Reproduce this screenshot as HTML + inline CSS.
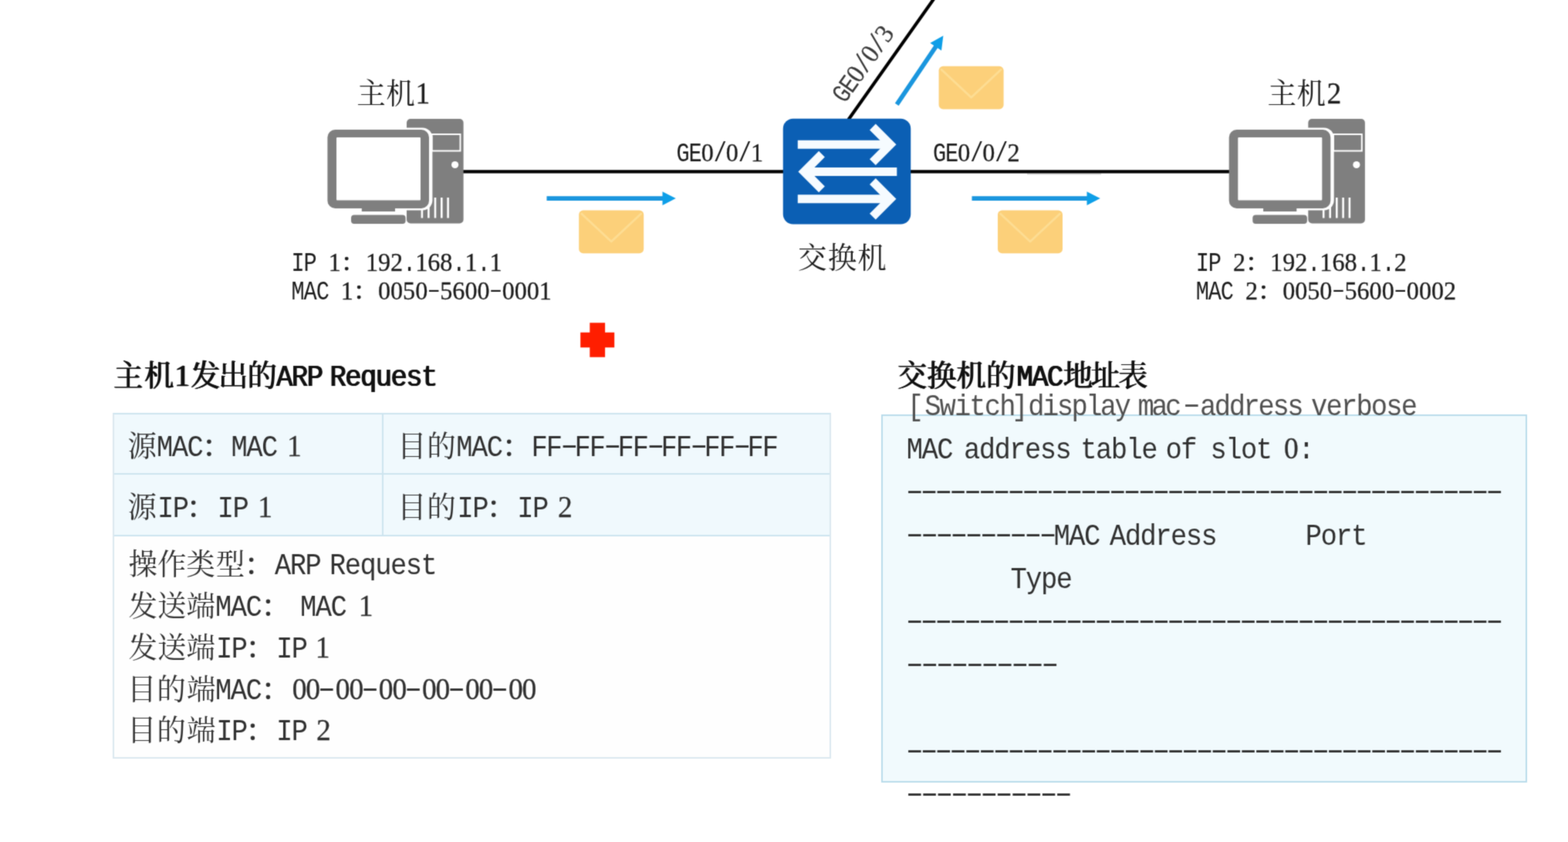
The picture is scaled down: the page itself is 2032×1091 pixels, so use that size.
<!DOCTYPE html>
<html lang="zh-CN"><head><meta charset="utf-8"><title>ARP Request - 交换机的MAC地址表</title>
<style>
*{box-sizing:border-box}
html,body{margin:0;padding:0}
body{width:2032px;height:1091px;position:relative;overflow:hidden;background:#fff;
 font-family:"Liberation Serif","Noto Serif CJK SC",serif}
#page{position:absolute;left:0;top:0;width:2032px;height:1091px;overflow:hidden;background:#fff;filter:url(#soft)}
#dia{position:absolute;left:0;top:0}
.t{position:absolute;white-space:pre;line-height:1;font-size:37.5px;color:#303030;margin:0;
 font-family:"Liberation Serif","Noto Serif CJK SC",serif}
.t .m{font-family:"Liberation Mono","Noto Serif CJK SC",monospace;font-size:35.5px;letter-spacing:-1.55px;word-spacing:-5.75px;line-height:0;
 display:inline-block;transform:scaleY(1.1);transform-origin:0 .2661em}
.t .n{font-family:"Liberation Serif","Noto Serif CJK SC",serif;display:inline-block;line-height:0;-webkit-text-stroke:.3px currentColor;
 transform:scaleY(1.04);transform-origin:0 .3375em}
.t .x{display:inline-block}
.t .q{-webkit-text-stroke:.9px currentColor}
.t .d{font-family:"Liberation Mono","Noto Serif CJK SC",monospace;font-size:60.4px;--dls:-17.49px;letter-spacing:var(--dls);line-height:0;
 display:inline-block;margin:0 8.8px 0 -8.8px;transform:translateY(-3.4px) scaleY(.6);transform-origin:0 .2661em}
.t.s{font-size:32.14px;color:#1c1c1c}
.t.s .m{font-size:28.6px;letter-spacing:-1.09px;word-spacing:0;transform:scaleY(1.21)}
.t.s .n{transform:scaleY(1.07)}
.t.s .d{font-size:45.8px;--dls:-11.41px;margin:0 5.7px 0 -5.7px;transform:translateY(-4.2px) scaleY(.6)}
.t.h{font-weight:400;color:#111;font-size:38.3px;text-shadow:.7px 0 0 #111,1.4px 0 0 #111}
.t.h .m{word-spacing:-10.5px}
.t.h .n{font-size:39.5px}
.t.g{color:#505050}
.t.l{color:#1e1e1e}
.t.r{color:#3a3a3a}
.box{position:absolute}
section{margin:0;padding:0}
#tbl{left:146px;top:535px;width:931px;height:448px;border:2px solid #dbe8ef;border-top-color:#cde4ef;background:#fefefe}
#tbl .c{position:absolute;background:#f0f9fd}
#tbl .c1{left:0;top:0;width:349px;height:78px;border-right:2px solid #cde4ef;border-bottom:2px solid #cde4ef}
#tbl .c2{left:349px;top:0;width:578px;height:78px;border-bottom:2px solid #cde4ef}
#tbl .c3{left:0;top:78px;width:349px;height:80px;border-right:2px solid #cde4ef;border-bottom:2px solid #cde4ef}
#tbl .c4{left:349px;top:78px;width:578px;height:80px;border-bottom:2px solid #cde4ef}
#mac{left:1142px;top:537px;width:837px;height:477px;border:2px solid #b9dceb;background:#f1fafd}
</style></head>
<body>
<svg width="0" height="0" style="position:absolute" aria-hidden="true"><defs><filter id="soft" x="0" y="0" width="100%" height="100%" color-interpolation-filters="sRGB"><feConvolveMatrix order="3" kernelMatrix="0.0289 0.1122 0.0289 0.1122 0.4356 0.1122 0.0289 0.1122 0.0289" edgeMode="duplicate" preserveAlpha="true"/></filter></defs></svg>
<div id="page">
<section id="topo">
<svg id="dia" width="2032" height="480" viewBox="0 0 2032 480">
<path d="M1331 225.4H1427" stroke="#d4d4d4" stroke-width="1.6" fill="none"/>
<g stroke="#000" stroke-width="4.2" fill="none">
 <path d="M598 222.3H1016"/>
 <path d="M1179 222.3H1594"/>
 <path d="M1099.5 155L1212 -4"/>
</g>
<g transform="translate(0,0)">
 <rect x="527" y="154" width="73.6" height="135.4" rx="5" fill="#7f7f7f"/>
 <rect x="559.6" y="174" width="36.9" height="21.5" fill="none" stroke="#fff" stroke-width="2"/>
 <circle cx="589.6" cy="213.5" r="4.6" fill="#fff"/>
 <path d="M546.9 256V282.5M555.4 256V282.5M564 256V282.5M572.3 256V282.5M580.6 256V282.5" stroke="#fff" stroke-width="2.6" fill="none"/>
 <rect x="430" y="165.5" width="130.4" height="107" rx="13" fill="#fff"/>
 <rect x="455" y="278.5" width="70.6" height="11.5" rx="4" fill="#7f7f7f"/>
 <rect x="468.8" y="268" width="43.2" height="6" fill="#7f7f7f"/>
 <rect x="424.4" y="168" width="131.6" height="102" rx="10" fill="#7f7f7f"/>
 <rect x="436" y="178" width="109" height="81.4" rx="1" fill="#fff"/>
</g>
<g transform="translate(1168.3,0)">
 <rect x="527" y="154" width="73.6" height="135.4" rx="5" fill="#7f7f7f"/>
 <rect x="559.6" y="174" width="36.9" height="21.5" fill="none" stroke="#fff" stroke-width="2"/>
 <circle cx="589.6" cy="213.5" r="4.6" fill="#fff"/>
 <path d="M546.9 256V282.5M555.4 256V282.5M564 256V282.5M572.3 256V282.5M580.6 256V282.5" stroke="#fff" stroke-width="2.6" fill="none"/>
 <rect x="430" y="165.5" width="130.4" height="107" rx="13" fill="#fff"/>
 <rect x="455" y="278.5" width="70.6" height="11.5" rx="4" fill="#7f7f7f"/>
 <rect x="468.8" y="268" width="43.2" height="6" fill="#7f7f7f"/>
 <rect x="424.4" y="168" width="131.6" height="102" rx="10" fill="#7f7f7f"/>
 <rect x="436" y="178" width="109" height="81.4" rx="1" fill="#fff"/>
</g>
<rect x="1014.75" y="153.75" width="165.5" height="136.85" rx="13" fill="#0b5fb4"/>
<g stroke="#f6fbff" stroke-width="11" fill="none" stroke-linejoin="miter">
 <path d="M1033.8 187.3H1152"/><path d="M1130.9 164.5L1153.7 187.3L1130.9 210.1"/>
 <path d="M1162.3 222.5H1044"/><path d="M1065.0 199.7L1042.2 222.5L1065.0 245.3"/>
 <path d="M1033.8 257.8H1152"/><path d="M1130.9 235.0L1153.7 257.8L1130.9 280.6"/>
</g>
<g transform="translate(708.5,257.1) rotate(0.00)"><rect x="0" y="-2.9" width="152.3" height="5.8" fill="#1a96de"/>
 <path d="M150.0 -8.8L167.3 0L150.0 8.8Z" fill="#0e9fe8"/></g>
<g transform="translate(1259.5,257.1) rotate(0.00)"><rect x="0" y="-2.9" width="151.3" height="5.8" fill="#1a96de"/>
 <path d="M149.0 -8.8L166.3 0L149.0 8.8Z" fill="#0e9fe8"/></g>
<g transform="translate(1162.2,135.3) rotate(-55.96)"><rect x="0" y="-2.9" width="92.5" height="5.8" fill="#1a96de"/>
 <path d="M90.2 -8.8L107.5 0L90.2 8.8Z" fill="#0e9fe8"/></g>
<g transform="translate(750.2,272.6)"><rect width="84" height="55.6" rx="5.5" fill="#fcd07a"/>
 <path d="M3.5 4.5L42 40.5L80.5 4.5" fill="none" stroke="#fddd93" stroke-width="2.8" stroke-linejoin="round" stroke-linecap="round"/></g>
<g transform="translate(1293,272.6)"><rect width="84" height="55.6" rx="5.5" fill="#fcd07a"/>
 <path d="M3.5 4.5L42 40.5L80.5 4.5" fill="none" stroke="#fddd93" stroke-width="2.8" stroke-linejoin="round" stroke-linecap="round"/></g>
<g transform="translate(1216.6,85.8)"><rect width="84" height="55.6" rx="5.5" fill="#fcd07a"/>
 <path d="M3.5 4.5L42 40.5L80.5 4.5" fill="none" stroke="#fddd93" stroke-width="2.8" stroke-linejoin="round" stroke-linecap="round"/></g>
<path d="M764.3 418.3h19.8v12.5h12.1v19.4h-12.1v12.5h-19.8v-12.5h-12.1v-19.4h12.1z" fill="#ff1e00"/>
</svg>
<p class="t l" style="left:462.50px;top:102.89px"><span class="x" style="margin-left:-0.31px">主</span><span class="x" style="margin-left:0.44px">机</span><span class="n" style="margin-left:0.92px">1</span></p>
<p class="t l" style="left:1643.00px;top:102.89px"><span class="x" style="margin-left:-0.41px">主</span><span class="x" style="margin-left:0.44px">机</span><span class="n" style="margin-left:1.55px">2</span></p>
<p class="t l" style="left:1034.50px;top:315.59px"><span class="x" style="margin-left:-0.64px">交</span><span class="x" style="margin-left:1.41px">换</span><span class="x" style="margin-left:0.87px">机</span></p>
<p class="t s" style="left:876.50px;top:181.68px"><span class="m">GE</span><span class="n">0</span><span class="m">/</span><span class="n">0</span><span class="m">/</span><span class="n">1</span></p>
<p class="t s" style="left:1209.00px;top:181.68px"><span class="m">GE</span><span class="n">0</span><span class="m">/</span><span class="n">0</span><span class="m">/</span><span class="n">2</span></p>
<p class="t s r" style="left:1061.50px;top:66.58px;transform:rotate(-54.7deg);transform-origin:56.2px 15.9px"><span class="m">GE</span><span class="n">0</span><span class="m">/</span><span class="n">0</span><span class="m">/</span><span class="n">3</span></p>
<p class="t s" style="left:377.50px;top:323.68px"><span class="m">IP </span><span class="n">1</span><span class="x q">：</span><span class="n">192</span><span class="m">.</span><span class="n">168</span><span class="m">.</span><span class="n">1</span><span class="m">.</span><span class="n">1</span></p>
<p class="t s" style="left:377.50px;top:361.18px"><span class="m">MAC </span><span class="n">1</span><span class="x q">：</span><span class="n">0050</span><span class="d">-</span><span class="n">5600</span><span class="d">-</span><span class="n">0001</span></p>
<p class="t s" style="left:1549.70px;top:323.68px"><span class="m">IP </span><span class="n">2</span><span class="x q">：</span><span class="n">192</span><span class="m">.</span><span class="n">168</span><span class="m">.</span><span class="n">1</span><span class="m">.</span><span class="n">2</span></p>
<p class="t s" style="left:1549.70px;top:361.18px"><span class="m">MAC </span><span class="n">2</span><span class="x q">：</span><span class="n">0050</span><span class="d">-</span><span class="n">5600</span><span class="d">-</span><span class="n">0002</span></p>
</section>
<section id="arp">
<h2 class="t h" style="left:146.00px;top:468.42px"><span class="x" style="margin-left:0.42px">主</span><span class="x" style="margin-left:1.64px">机</span><span class="n" style="margin-left:1.17px">1</span><span class="x" style="margin-left:1.05px">发</span><span class="x" style="margin-left:-2.46px">出</span><span class="x" style="margin-left:-0.92px">的</span><span class="m" style="margin-left:-0.72px">ARP </span><span class="m" style="margin-left:0.85px">Request</span></h2>
<div class="box" id="tbl"><div class="c c1"></div><div class="c c2"></div><div class="c c3"></div><div class="c c4"></div></div>
<p class="t" style="left:165.50px;top:559.59px"><span class="x" style="margin-left:0.05px">源</span><span class="m" style="margin-left:-0.17px">MAC</span><span class="x q">：</span><span class="m" style="margin-left:-0.12px">MAC </span><span class="n" style="margin-left:-0.93px">1</span></p>
<p class="t" style="left:520.50px;top:559.59px"><span class="x" style="margin-left:-5.58px">目</span><span class="x" style="margin-left:0.72px">的</span><span class="m" style="margin-left:0.70px">MAC</span><span class="x q" style="margin-left:0.42px">：</span><span class="m" style="margin-left:-0.09px;letter-spacing:-2.10px">FF</span><span class="x" style="margin-left:1.64px"></span><span class="d">-</span><span class="m" style="margin-left:-2.79px;letter-spacing:-2.10px">FF</span><span class="x" style="margin-left:1.64px"></span><span class="d">-</span><span class="m" style="margin-left:-2.79px;letter-spacing:-2.10px">FF</span><span class="x" style="margin-left:1.64px"></span><span class="d">-</span><span class="m" style="margin-left:-2.79px;letter-spacing:-2.10px">FF</span><span class="x" style="margin-left:1.64px"></span><span class="d">-</span><span class="m" style="margin-left:-2.79px;letter-spacing:-2.10px">FF</span><span class="x" style="margin-left:1.64px"></span><span class="d">-</span><span class="m" style="margin-left:-2.79px;letter-spacing:-2.10px">FF</span></p>
<p class="t" style="left:165.50px;top:639.09px"><span class="x" style="margin-left:0.05px">源</span><span class="m" style="margin-left:0.93px">IP</span><span class="x q" style="margin-left:-1.38px">：</span><span class="m" style="margin-left:2.18px">IP </span><span class="n" style="margin-left:-1.02px">1</span></p>
<p class="t" style="left:520.50px;top:639.09px"><span class="x" style="margin-left:-5.58px">目</span><span class="x" style="margin-left:0.72px">的</span><span class="m" style="margin-left:1.79px">IP</span><span class="x q" style="margin-left:-0.98px">：</span><span class="m" style="margin-left:1.78px">IP </span><span class="n" style="margin-left:-0.74px">2</span></p>
<p class="t" style="left:165.50px;top:713.29px"><span class="x" style="margin-left:0.89px">操</span><span class="x" style="margin-left:0.20px">作</span><span class="x" style="margin-left:-0.38px">类</span><span class="x" style="margin-left:1.16px">型</span><span class="x q" style="margin-left:-0.36px">：</span><span class="m" style="margin-left:1.60px">ARP </span><span class="m" style="margin-left:-2.42px">Request</span></p>
<p class="t" style="left:165.50px;top:767.09px"><span class="x" style="margin-left:1.01px">发送端</span><span class="m" style="margin-left:0.02px">MAC</span><span class="x q" style="margin-left:0.47px">：</span><span class="m" style="margin-left:-1.22px"> MAC </span><span class="n" style="margin-left:2.47px">1</span></p>
<p class="t" style="left:165.50px;top:820.89px"><span class="x" style="margin-left:1.01px">发送端</span><span class="m" style="margin-left:1.11px">IP</span><span class="x q" style="margin-left:-0.98px">：</span><span class="m" style="margin-left:1.78px">IP </span><span class="n" style="margin-left:-2.77px">1</span></p>
<p class="t" style="left:165.50px;top:874.69px"><span class="x" style="margin-left:-0.58px">目</span><span class="x" style="margin-left:0.72px">的</span><span class="x" style="margin-left:1.41px">端</span><span class="m" style="margin-left:-0.51px">MAC</span><span class="x q" style="margin-left:0.47px">：</span><span class="n" style="margin-left:2.42px;letter-spacing:-1.15px">00</span><span class="x" style="margin-left:0.27px"></span><span class="d">-</span><span class="n" style="margin-left:1.88px;letter-spacing:-1.15px">00</span><span class="x" style="margin-left:0.28px"></span><span class="d">-</span><span class="n" style="margin-left:1.78px;letter-spacing:-1.15px">00</span><span class="x" style="margin-left:0.27px"></span><span class="d">-</span><span class="n" style="margin-left:1.88px;letter-spacing:-1.15px">00</span><span class="x" style="margin-left:0.27px"></span><span class="d">-</span><span class="n" style="margin-left:1.77px;letter-spacing:-1.15px">00</span><span class="x" style="margin-left:0.27px"></span><span class="d">-</span><span class="n" style="margin-left:1.88px;letter-spacing:-1.15px">00</span></p>
<p class="t" style="left:165.50px;top:928.49px"><span class="x" style="margin-left:-0.58px">目</span><span class="x" style="margin-left:0.72px">的</span><span class="x" style="margin-left:1.41px">端</span><span class="m" style="margin-left:0.58px">IP</span><span class="x q" style="margin-left:-0.98px">：</span><span class="m" style="margin-left:1.78px">IP </span><span class="n" style="margin-left:-1.49px">2</span></p>
</section>
<section id="mactable">
<h2 class="t h" style="left:1161.00px;top:468.42px"><span class="x" style="margin-left:1.25px">交换机的</span><span class="m" style="margin-left:1.29px">MAC</span><span class="x" style="margin-left:1.02px;letter-spacing:-2.60px">地址表</span></h2>
<div class="box" id="mac"></div>
<p class="t g" style="left:1179.00px;top:506.79px"><span class="m" style="margin-left:-3.30px">[</span><span class="m" style="margin-left:2.67px;letter-spacing:-1.90px">Switch</span><span class="m" style="margin-left:-3.34px">]</span><span class="m" style="margin-left:1.36px;letter-spacing:-2.60px">display </span><span class="m" style="margin-left:-1.71px;letter-spacing:-3.60px">mac</span><span class="x" style="margin-left:7.42px"></span><span class="d">-</span><span class="m" style="margin-left:1.05px;letter-spacing:-2.40px">address </span><span class="m" style="margin-left:-1.33px;letter-spacing:-1.85px">verbose</span></p>
<p class="t" style="left:1176.00px;top:563.09px"><span class="m" style="margin-left:-1.17px">MAC </span><span class="m" style="margin-left:0.92px">address </span><span class="m" style="margin-left:-1.13px">table </span><span class="m" style="margin-left:-2.52px">of </span><span class="m" style="margin-left:4.64px">slot </span><span class="n" style="margin-left:2.51px">0</span><span class="m" style="margin-left:-0.63px">:</span></p>
<p class="t" style="left:1176.00px;top:619.09px"><span class="x" style="margin-left:0.05px"></span><span class="d" style="letter-spacing:calc(var(--dls) + 0.04px)">-----------------------------------------</span></p>
<p class="t" style="left:1176.00px;top:675.09px"><span class="x" style="margin-left:0.05px"></span><span class="d" style="letter-spacing:calc(var(--dls) + 0.44px)">----------</span><span class="m" style="margin-left:-2.45px">MAC </span><span class="m" style="margin-left:-0.92px">Address        </span><span class="m" style="margin-left:3.59px">Port</span></p>
<p class="t" style="left:1176.00px;top:731.09px"><span class="m">         </span><span class="m" style="margin-left:7.33px">Type</span></p>
<p class="t" style="left:1176.00px;top:787.09px"><span class="x" style="margin-left:0.05px"></span><span class="d" style="letter-spacing:calc(var(--dls) + 0.04px)">-----------------------------------------</span></p>
<p class="t" style="left:1176.00px;top:843.09px"><span class="x" style="margin-left:0.05px"></span><span class="d" style="letter-spacing:calc(var(--dls) + 0.74px)">----------</span></p>
<p class="t" style="left:1176.00px;top:955.09px"><span class="x" style="margin-left:0.05px"></span><span class="d" style="letter-spacing:calc(var(--dls) + 0.04px)">-----------------------------------------</span></p>
<p class="t" style="left:1176.00px;top:1011.09px"><span class="x" style="margin-left:0.05px"></span><span class="d" style="letter-spacing:calc(var(--dls) + 0.56px)">-----------</span></p>
</section>
</div>
</body></html>
